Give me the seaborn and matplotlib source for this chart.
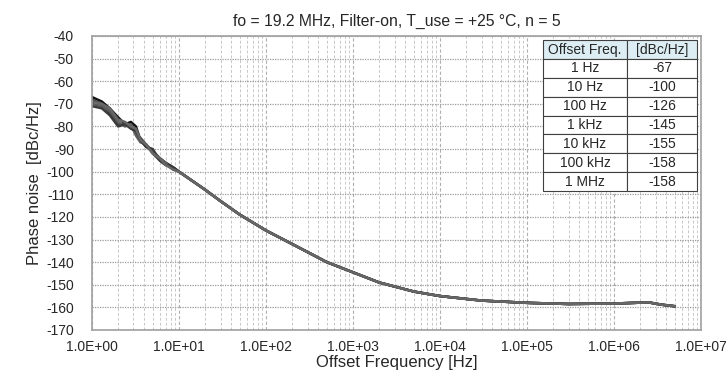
import seaborn as sns
import matplotlib.pyplot as plt
import numpy as np
import pandas as pd

# low frequency part differs per unit, above 10 Hz they all overlap
freq_low = [1, 1.3, 1.6, 2, 2.4, 2.8, 3.2, 3.6, 4.2, 5, 6, 7, 8.5]
pn_low = {
    'n1': [-67, -69, -72, -76, -79, -78, -80, -86, -89, -91, -94, -96, -98],
    'n2': [-68, -70, -74, -79, -79, -80, -83, -85, -88, -92, -95, -97, -98],
    'n3': [-70, -71, -73, -78, -80, -79, -84, -87, -88, -91, -94, -96, -99],
    'n4': [-71, -72, -75, -80, -79, -81, -82, -86, -89, -90, -95, -97, -98],
    'n5': [-69, -70, -72, -77, -78, -80, -81, -86, -88, -92, -94, -97, -99],
}
freq_high = [10, 20, 30, 50, 100, 200, 500, 1e3, 2e3, 5e3, 1e4, 3e4, 1e5,
             3e5, 1e6, 2.5e6, 3.5e6, 5e6]
pn_high = [-100, -108, -113, -119, -126, -132, -140, -144.5, -149, -153,
           -155, -157, -158, -158.5, -158.3, -157.8, -158.8, -159.5]

table_freq = ['1 Hz', '10 Hz', '100 Hz', '1 kHz', '10 kHz', '100 kHz', '1 MHz']
table_val = ['-67', '-100', '-126', '-145', '-155', '-158', '-158']

rows = []
for unit, vals in pn_low.items():
    for f, v in zip(freq_low + freq_high, vals + pn_high):
        rows.append([unit, f, v])
df = pd.DataFrame(rows, columns=['unit', 'freq', 'pn'])

sns.set_style('white')
plt.rcParams['font.family'] = ['Liberation Sans', 'DejaVu Sans']
plt.rcParams['axes.unicode_minus'] = False

fig = plt.figure(figsize=(7.26, 3.85), dpi=100)
ax = fig.add_axes([0.1267, 0.1429, 0.8389, 0.7636])

pal = ['#111111', '#4a4a4a', '#5c5c5c', '#3a3a3a', '#666666']
sns.lineplot(data=df, x='freq', y='pn', hue='unit', palette=pal, lw=1.8,
             legend=False, ax=ax, estimator=None, sort=False)

ax.set_xscale('log')
ax.set_xlim(1, 1e7)
ax.set_ylim(-170, -40)
ax.set_yticks(np.arange(-170, -39, 10))
ax.set_xticks([10.0 ** k for k in range(8)])
ax.set_xticklabels(['1.0E+%02d' % k for k in range(8)])
ax.tick_params(labelsize=10, length=0)
ax.tick_params(axis='y', pad=13)
ax.tick_params(axis='x', pad=7)

ax.grid(which='major', axis='y', color='#9a9a9a', ls=(0, (1, 1)), lw=0.9)
ax.grid(which='major', axis='x', color='#b0b0b0', ls=(0, (3, 2)), lw=0.8)
ax.grid(which='minor', axis='x', color='#c8c8c8', ls=(0, (3, 2)), lw=0.7)
for s in ax.spines.values():
    s.set_color('#a0a0a0')
    s.set_linewidth(1.2)

ax.set_xlabel('Offset Frequency [Hz]', fontsize=12, labelpad=1)
ax.set_ylabel('Phase noise  [dBc/Hz]', fontsize=12, labelpad=3)
ax.set_title('fo = 19.2 MHz, Filter-on, T_use = +25 \u00b0C, n = 5', fontsize=11.3, pad=7)

cells = [[a, b] for a, b in zip(table_freq, table_val)]
tb = ax.table(cellText=cells, colLabels=['Offset Freq.', '[dBc/Hz]'],
              cellLoc='center', bbox=[0.74, 0.473, 0.253, 0.513],
              colWidths=[0.55, 0.45])
tb.set_zorder(10)
tb.auto_set_font_size(False)
tb.set_fontsize(10)
for (r, c), cell in tb.get_celld().items():
    cell.set_edgecolor('#404040')
    cell.set_linewidth(0.8)
    cell.PAD = 0.02
    if r == 0:
        cell.set_facecolor('#dcedf3')
    else:
        cell.set_facecolor('white')

fig.savefig('out.png', dpi=100)
